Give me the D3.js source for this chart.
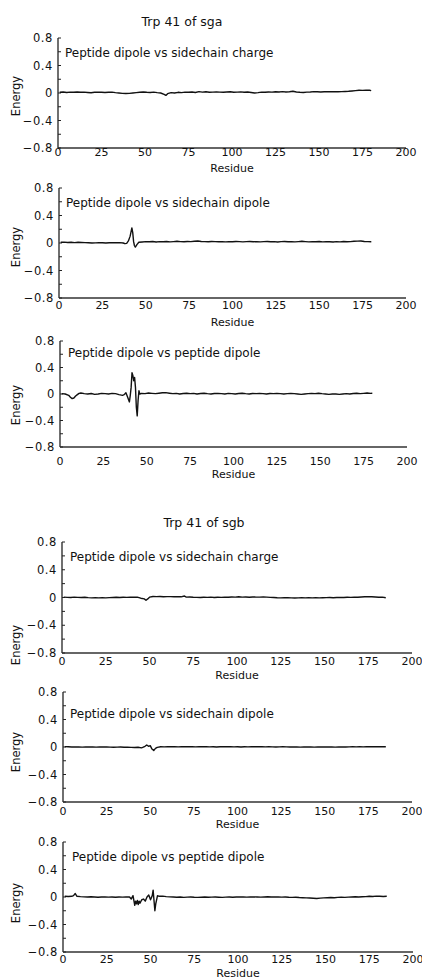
<!DOCTYPE html>
<html>
<head>
<meta charset="utf-8">
<script src="https://cdn.jsdelivr.net/npm/d3@7"></script>
<style>
  body { margin: 0; background: #fff; }
  svg { display: block; }
  text { font-family: "DejaVu Sans", sans-serif; fill: #111; }
</style>
</head>
<body>
<div id="chart"></div>
<script>
// energy vs residue, [residue, energy]
const sgaCharge = [
  [1,0.01],[3,0.015],[5,0.008],[7,0.012],[9,0.01],[11,0.015],[13,0.01],[15,0.012],[17,0.008],[19,0.004],
  [21,0.01],[23,0.012],[25,0.01],[27,0.008],[29,0.01],[31,0.012],[33,0.005],[35,0.0],[37,-0.005],[39,-0.008],
  [41,-0.005],[43,0.0],[45,0.005],[47,0.01],[49,0.015],[51,0.01],[53,0.008],[55,0.012],[57,0.005],[59,0.0],
  [61,-0.02],[62,-0.035],[63,-0.01],[65,0.005],[67,0.0],[69,0.01],[71,0.005],[73,0.012],[75,0.01],[77,0.015],
  [79,0.008],[81,0.02],[83,0.012],[85,0.018],[87,0.01],[89,0.012],[91,0.015],[93,0.012],[95,0.01],[97,0.014],
  [99,0.018],[101,0.01],[103,0.012],[105,0.016],[107,0.01],[109,0.014],[111,0.008],[113,0.0],[115,0.005],[117,0.012],
  [119,0.01],[121,0.015],[123,0.012],[125,0.018],[127,0.015],[129,0.02],[131,0.015],[133,0.018],[135,0.025],[137,0.015],
  [139,0.01],[141,0.008],[143,0.012],[145,0.015],[147,0.02],[149,0.018],[151,0.015],[153,0.018],[155,0.02],[157,0.018],
  [159,0.02],[161,0.018],[163,0.02],[165,0.022],[167,0.025],[169,0.03],[171,0.035],[173,0.04],[175,0.038],[177,0.042],
  [179,0.04],[180,0.035]
];
const sgaSideDipole = [
  [1,0.01],[3,0.012],[5,0.008],[7,0.01],[9,0.006],[11,0.01],[13,0.008],[15,0.005],[17,0.003],[19,0.0],
  [21,0.002],[23,0.005],[25,0.004],[27,0.0],[29,0.003],[31,0.006],[33,0.003],[35,0.005],[37,0.0],[38,-0.01],
  [39,-0.005],[40,0.03],[41,0.1],[42,0.22],[42.5,0.15],[43,0.02],[43.5,-0.04],[44,-0.06],[45,-0.02],[46,0.01],
  [48,0.015],[50,0.02],[52,0.018],[54,0.022],[56,0.015],[58,0.02],[60,0.018],[62,0.022],[64,0.016],[66,0.02],
  [68,0.025],[70,0.02],[72,0.018],[74,0.022],[76,0.02],[78,0.025],[80,0.03],[82,0.022],[84,0.02],[86,0.018],
  [88,0.022],[90,0.02],[92,0.018],[94,0.02],[96,0.016],[98,0.02],[100,0.018],[102,0.022],[104,0.02],[106,0.016],
  [108,0.02],[110,0.022],[112,0.018],[114,0.02],[116,0.016],[118,0.02],[120,0.022],[122,0.018],[124,0.02],[126,0.015],
  [128,0.02],[130,0.022],[132,0.018],[134,0.02],[136,0.016],[138,0.02],[140,0.025],[142,0.02],[144,0.016],[146,0.02],
  [148,0.018],[150,0.022],[152,0.016],[154,0.02],[156,0.018],[158,0.015],[160,0.02],[162,0.016],[164,0.022],[166,0.018],
  [168,0.02],[170,0.025],[172,0.028],[174,0.03],[176,0.022],[178,0.02],[180,0.018]
];
const sgaPepDipole = [
  [1,0.005],[3,0.0],[5,-0.02],[6,-0.05],[7,-0.07],[8,-0.06],[9,-0.03],[10,-0.01],[11,0.01],[12,0.015],
  [14,0.005],[16,0.0],[18,0.008],[20,-0.005],[22,0.0],[24,0.01],[26,0.005],[28,0.0],[30,0.01],[32,0.005],
  [34,-0.01],[36,-0.02],[37,-0.01],[38,0.02],[39,-0.05],[40,-0.12],[40.5,-0.02],[41,0.1],[41.5,0.32],[42,0.28],
  [42.5,0.2],[43,0.25],[43.5,0.1],[44,-0.2],[44.5,-0.33],[45,-0.1],[45.5,0.05],[46,0.0],[47,0.01],[49,0.005],
  [51,0.015],[53,0.01],[55,0.005],[57,0.012],[59,0.018],[61,0.02],[63,0.012],[65,0.005],[67,0.01],[69,0.0],
  [71,0.008],[73,0.012],[75,0.005],[77,0.01],[79,0.0],[81,0.008],[83,0.012],[85,0.005],[87,0.0],[89,0.008],
  [91,0.01],[93,0.005],[95,0.0],[97,0.01],[99,0.005],[101,0.0],[103,0.008],[105,0.012],[107,0.005],[109,0.0],
  [111,0.008],[113,0.005],[115,0.01],[117,0.005],[119,0.0],[121,0.008],[123,0.005],[125,0.01],[127,0.005],[129,0.0],
  [131,0.005],[133,0.01],[135,0.005],[137,0.0],[139,-0.005],[141,0.0],[143,0.005],[145,0.01],[147,0.005],[149,0.012],
  [151,0.005],[153,0.0],[155,-0.005],[157,0.0],[159,0.0],[161,-0.005],[163,0.0],[165,0.005],[167,0.0],[169,0.008],
  [171,0.012],[173,0.005],[175,0.01],[177,0.015],[179,0.01],[180,0.012]
];
const sgbCharge = [
  [1,0.005],[3,0.002],[5,0.0],[7,0.005],[9,0.002],[11,0.0],[13,0.003],[15,-0.002],[17,-0.005],[19,-0.004],
  [21,-0.006],[23,-0.003],[25,-0.005],[27,-0.002],[29,0.0],[31,0.003],[33,0.0],[35,0.004],[37,0.002],[39,0.005],
  [41,0.003],[43,0.006],[45,-0.01],[47,-0.02],[48,-0.04],[49,-0.02],[50,0.005],[52,0.015],[54,0.012],[56,0.015],
  [58,0.01],[60,0.013],[62,0.012],[64,0.01],[66,0.013],[68,0.01],[70,0.022],[71,0.006],[73,0.008],[75,0.004],
  [77,0.002],[79,0.0],[81,0.004],[83,0.002],[85,0.005],[87,0.0],[89,0.004],[91,0.002],[93,0.006],[95,0.004],
  [97,0.008],[99,0.005],[101,0.01],[103,0.006],[105,0.008],[107,0.004],[109,0.008],[111,0.006],[113,0.005],[115,0.008],
  [117,0.005],[119,0.002],[121,0.0],[123,-0.004],[125,-0.006],[127,-0.004],[129,-0.002],[131,-0.005],[133,-0.008],[135,-0.005],
  [137,-0.004],[139,-0.006],[141,-0.003],[143,-0.005],[145,-0.004],[147,-0.006],[149,-0.003],[151,-0.002],[153,0.0],[155,-0.003],
  [157,0.0],[159,0.002],[161,0.0],[163,0.004],[165,0.002],[167,0.006],[169,0.004],[171,0.008],[173,0.01],[175,0.012],
  [177,0.01],[179,0.008],[181,0.004],[183,0.006],[185,-0.004]
];
const sgbSideDipole = [
  [1,0.005],[3,0.003],[5,0.0],[7,0.002],[9,0.0],[11,-0.002],[13,0.0],[15,0.002],[17,0.0],[19,-0.002],
  [21,0.0],[23,0.002],[25,0.0],[27,-0.002],[29,-0.004],[31,-0.002],[33,0.0],[35,-0.003],[37,-0.002],[39,-0.005],
  [41,-0.008],[43,-0.004],[45,-0.012],[46,-0.002],[47,0.01],[48,0.03],[49,0.01],[50,0.02],[51,-0.03],[52,-0.05],
  [53,-0.02],[54,-0.005],[56,0.004],[58,0.002],[60,0.005],[62,0.003],[64,0.006],[66,0.002],[68,0.005],[70,0.003],
  [72,0.006],[74,0.004],[76,0.002],[78,0.005],[80,0.003],[82,0.006],[84,0.002],[86,0.004],[88,0.0],[90,0.003],
  [92,0.005],[94,0.003],[96,0.006],[98,0.002],[100,0.004],[102,0.0],[104,0.003],[106,0.002],[108,0.005],[110,0.003],
  [112,0.006],[114,0.004],[116,0.002],[118,0.004],[120,0.002],[122,0.0],[124,0.002],[126,0.004],[128,0.002],[130,0.0],
  [132,0.002],[134,0.0],[136,-0.002],[138,0.0],[140,0.002],[142,0.0],[144,-0.002],[146,0.0],[148,0.002],[150,0.0],
  [152,0.002],[154,0.0],[156,-0.002],[158,0.0],[160,0.002],[162,0.0],[164,0.002],[166,0.004],[168,0.002],[170,0.004],
  [172,0.002],[174,0.005],[176,0.003],[178,0.005],[180,0.004],[182,0.006],[185,0.004]
];
const sgbPepDipole = [
  [1,0.01],[3,0.008],[5,0.01],[6,0.02],[7,0.05],[8,0.01],[10,0.005],[12,0.002],[14,0.0],[16,0.003],
  [18,0.0],[20,-0.003],[22,0.0],[24,0.002],[26,-0.002],[28,0.0],[30,-0.003],[32,0.0],[34,-0.002],[36,0.0],
  [38,0.0],[39,-0.03],[40,0.02],[41,-0.12],[41.5,-0.06],[42,-0.1],[42.5,-0.05],[43,-0.11],[43.5,-0.06],[44,-0.09],
  [45,-0.04],[46,-0.03],[47,-0.06],[48,0.0],[49,0.03],[50,-0.04],[51,0.02],[51.5,0.1],[52,-0.05],[52.5,-0.2],
  [53,-0.1],[54,0.02],[55,0.01],[57,0.012],[59,0.006],[61,0.002],[63,0.0],[65,-0.004],[67,0.0],[69,-0.005],
  [71,-0.002],[73,0.0],[75,-0.004],[77,-0.006],[79,-0.003],[81,0.0],[83,-0.004],[85,-0.002],[87,0.0],[89,-0.003],
  [91,-0.005],[93,-0.002],[95,0.0],[97,-0.003],[99,0.0],[101,0.002],[103,0.0],[105,-0.002],[107,0.0],[109,0.002],
  [111,0.0],[113,-0.002],[115,0.0],[117,0.003],[119,0.0],[121,0.002],[123,0.0],[125,-0.002],[127,0.0],[129,-0.004],
  [131,-0.006],[133,-0.004],[135,-0.008],[137,-0.01],[139,-0.012],[141,-0.015],[143,-0.018],[145,-0.022],[147,-0.016],[149,-0.012],
  [151,-0.01],[153,-0.008],[155,-0.01],[157,-0.006],[159,-0.004],[161,-0.006],[163,-0.002],[165,0.0],[167,0.003],[169,0.0],
  [171,0.004],[173,0.006],[175,0.01],[177,0.008],[179,0.012],[181,0.01],[183,0.008],[185,0.01]
];

const xTicks = [0, 25, 50, 75, 100, 125, 150, 175, 200];
const yTickLabels = [0.8, 0.4, 0, -0.4, -0.8];
const yMinorTicks = [0.8, 0.6, 0.4, 0.2, 0, -0.2, -0.4, -0.6, -0.8];
const titles = ["Trp 41 of sga", "Trp 41 of sgb"];
const panelLabels = [
  "Peptide dipole vs sidechain charge",
  "Peptide dipole vs sidechain dipole",
  "Peptide dipole vs peptide dipole"
];

const width = 422, height = 980;

const svg = d3.select("#chart").append("svg")
  .attr("width", width)
  .attr("height", height);

// page layout of the six panels (pixel boxes of each plot)
const panels = [
  { data: sgaCharge,     label: panelLabels[0], l: 58, r: 406, t: 38,  b: 148, tickY: 156, resY: 172, energyY: 96,  labX: 65, labY: 57 },
  { data: sgaSideDipole, label: panelLabels[1], l: 59, r: 406, t: 188, b: 298, tickY: 309, resY: 326, energyY: 247, labX: 66, labY: 207 },
  { data: sgaPepDipole,  label: panelLabels[2], l: 60, r: 407, t: 341, b: 447, tickY: 465, resY: 478, energyY: 405, labX: 68, labY: 357 },
  { data: sgbCharge,     label: panelLabels[0], l: 62, r: 412, t: 542, b: 653, tickY: 665, resY: 679, energyY: 645, labX: 70, labY: 561 },
  { data: sgbSideDipole, label: panelLabels[1], l: 63, r: 412, t: 692, b: 802, tickY: 815, resY: 828, energyY: 752, labX: 70, labY: 718 },
  { data: sgbPepDipole,  label: panelLabels[2], l: 63, r: 413, t: 842, b: 952, tickY: 963, resY: 977, energyY: 903, labX: 72, labY: 861 }
];

svg.append("text").attr("x", 182).attr("y", 26)
  .attr("text-anchor", "middle").attr("font-size", 12.5).text(titles[0]);
svg.append("text").attr("x", 204).attr("y", 527)
  .attr("text-anchor", "middle").attr("font-size", 12.5).text(titles[1]);

panels.forEach(p => {
  const x = d3.scaleLinear().domain([0, 200]).range([p.l, p.r]);
  const y = d3.scaleLinear().domain([-0.8, 0.8]).range([p.b, p.t]);
  const g = svg.append("g");

  // axes lines
  g.append("line")
    .attr("x1", p.l).attr("x2", p.l).attr("y1", p.t).attr("y2", p.b)
    .attr("stroke", "#222").attr("stroke-width", 1.3);
  g.append("line")
    .attr("x1", p.l).attr("x2", p.r).attr("y1", p.b).attr("y2", p.b)
    .attr("stroke", "#333").attr("stroke-width", 1.3);

  // inward y ticks
  g.selectAll(".ytick").data(yMinorTicks).enter().append("line")
    .attr("x1", p.l).attr("x2", p.l + 3)
    .attr("y1", d => y(d)).attr("y2", d => y(d))
    .attr("stroke", "#222").attr("stroke-width", 1);

  g.selectAll(".ylab").data(yTickLabels).enter().append("text")
    .attr("x", p.l - 5).attr("y", d => y(d) + 4)
    .attr("text-anchor", "end").attr("font-size", 11.5)
    .attr("letter-spacing", 0.6)
    .text(d => d === 0 ? "0" : d3.format(".1f")(d));

  g.selectAll(".xlab").data(xTicks).enter().append("text")
    .attr("x", d => x(d)).attr("y", p.tickY)
    .attr("text-anchor", "middle").attr("font-size", 11)
    .text(d => d);

  g.append("text")
    .attr("x", (p.l + p.r) / 2).attr("y", p.resY)
    .attr("text-anchor", "middle").attr("font-size", 11)
    .text("Residue");

  g.append("text")
    .attr("transform", `translate(20,${p.energyY}) rotate(-90)`)
    .attr("text-anchor", "middle").attr("font-size", 11.5)
    .text("Energy");

  g.append("text")
    .attr("x", p.labX).attr("y", p.labY)
    .attr("font-size", 12)
    .text(p.label);

  const line = d3.line()
    .x(d => x(d[0]))
    .y(d => y(d[1]));

  g.append("path")
    .datum(p.data)
    .attr("fill", "none")
    .attr("stroke", "#111")
    .attr("stroke-width", 1.4)
    .attr("stroke-linejoin", "round")
    .attr("d", line);
});
</script>
</body>
</html>
